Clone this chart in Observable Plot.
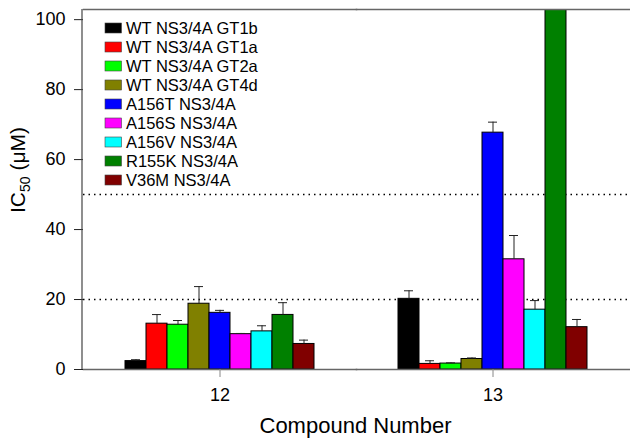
<!DOCTYPE html>
<html>
<head>
<meta charset="utf-8">
<script src="https://cdn.jsdelivr.net/npm/d3@7"></script>
<script src="https://cdn.jsdelivr.net/npm/@observablehq/plot@0.6"></script>
<style>
  html, body { margin: 0; padding: 0; background: #fff; }
  #chart { width: 630px; height: 438px; }
</style>
</head>
<body>
<div id="chart"></div>
<script>
const compounds = ["12", "13"];
const series = ["WT NS3/4A GT1b", "WT NS3/4A GT1a", "WT NS3/4A GT2a", "WT NS3/4A GT4d",
  "A156T NS3/4A", "A156S NS3/4A", "A156V NS3/4A", "R155K NS3/4A", "V36M NS3/4A"];
const colors = ["#000000", "#ff0000", "#00ff00", "#808000", "#0000ff", "#ff00ff", "#00ffff", "#008000", "#800000"];
const values12 = [2.4, 13.1, 12.8, 18.8, 16.2, 10.1, 10.9, 15.6, 7.3];
const errors12 = [0.4, 2.6, 1.2, 4.9, 0.7, 0.2, 1.6, 3.5, 1.1];
const values13 = [20.2, 1.6, 1.7, 3.0, 67.7, 31.5, 17.1, 120, 12.1];
const errors13 = [2.3, 0.9, 0.2, 0.3, 3.0, 6.8, 2.6, 0, 2.2];
const yTicks = [0, 20, 40, 60, 80, 100];
const refLines = [20, 50];
const yTitle = ["IC", "50", " (μM)"];
const xTitle = "Compound Number";

const rows = [];
series.forEach((s, i) => {
  rows.push({compound: "12", series: s, value: values12[i], hi: values12[i] + errors12[i], err: errors12[i]});
});
series.forEach((s, i) => {
  rows.push({compound: "13", series: s, value: values13[i], hi: values13[i] + errors13[i], err: errors13[i]});
});
const errRows = rows.filter(d => d.err > 0);

const font = "'Liberation Sans', Arial, sans-serif";
const mLeft = 82, mTop = 9, mBottom = 69, W = 630, H = 438;

const plot = Plot.plot({
  width: W,
  height: H,
  marginLeft: mLeft,
  marginRight: 1,
  marginTop: mTop,
  marginBottom: mBottom,
  style: {fontFamily: font, background: "white", color: "#000"},
  fx: {domain: compounds, paddingInner: 0, paddingOuter: 0},
  x: {domain: series, paddingInner: 0, paddingOuter: 1.86, axis: null},
  y: {domain: [0, 102.9]},
  color: {domain: series, range: colors},
  marks: [
    Plot.ruleY(refLines, {stroke: "#000", strokeWidth: 1.5, strokeDasharray: "1.5,4"}),
    Plot.barY(rows, {fx: "compound", x: "series", y: "value", fill: "series", stroke: "#000", strokeWidth: 1, clip: true}),
    Plot.ruleX(errRows, {fx: "compound", x: "series", y1: "value", y2: "hi", stroke: "#222", strokeWidth: 1}),
    Plot.tickY(errRows, {fx: "compound", x: "series", y: "hi", stroke: "#222", strokeWidth: 1, insetLeft: 6, insetRight: 6}),
    Plot.frame({anchor: "top", stroke: "#666", strokeWidth: 1.5}),
    Plot.frame({anchor: "bottom", stroke: "#666", strokeWidth: 1.5}),
    Plot.axisY({ticks: yTicks, tickSize: 9, tickPadding: 9, fontSize: 18, label: null, stroke: "#222"}),
    Plot.axisFx({anchor: "bottom", tickSize: 8, tickPadding: 11, fontSize: 18, label: null, stroke: "#888"})
  ]
});

document.getElementById("chart").appendChild(plot);

const svg = d3.select(plot);
// left axis line
svg.append("line")
  .attr("x1", mLeft).attr("x2", mLeft)
  .attr("y1", mTop).attr("y2", H - mBottom)
  .attr("stroke", "#444").attr("stroke-width", 1.2);

// y title with subscript
const yt = svg.append("text")
  .attr("transform", "translate(25,170) rotate(-90)")
  .attr("text-anchor", "middle")
  .attr("font-family", font)
  .attr("font-size", 21)
  .attr("fill", "#000");
yt.append("tspan").text(yTitle[0]);
yt.append("tspan").attr("font-size", 14).attr("dy", 5).text(yTitle[1]);
yt.append("tspan").attr("dy", -5).text(yTitle[2]);

// x title
svg.append("text")
  .attr("x", 355.5).attr("y", 433)
  .attr("text-anchor", "middle")
  .attr("font-family", font)
  .attr("font-size", 22)
  .attr("fill", "#000")
  .text(xTitle);

// legend
const color = plot.scale("color");
const lg = svg.append("g").attr("font-family", font).attr("font-size", 16.5).attr("text-anchor", "start");
series.forEach((s, i) => {
  const cy = 28 + i * 19;
  lg.append("rect").attr("x", 105).attr("y", cy - 5).attr("width", 16.5).attr("height", 10)
    .attr("fill", color.apply(s)).attr("stroke", "#444").attr("stroke-width", 0.6);
  lg.append("text").attr("x", 126).attr("y", cy).attr("dy", "0.36em")
    .attr("text-anchor", "start").attr("fill", "#000").text(s);
});
</script>
</body>
</html>
